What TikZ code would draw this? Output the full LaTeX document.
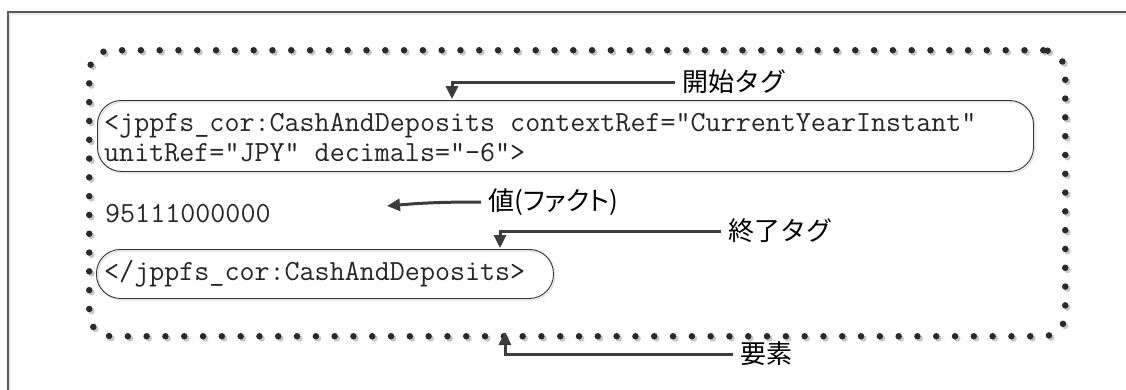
\documentclass[tikz,border=0pt]{standalone}
\usepackage{fontspec}
\newfontfamily\jp{Noto Sans CJK JP}
\newfontfamily\jpp[RawFeature=+palt]{Noto Sans CJK JP}
\usetikzlibrary{arrows.meta}
\definecolor{arrc}{HTML}{3C3C3C}
\definecolor{dotc}{HTML}{2A2A2A}
\begin{document}
\begin{tikzpicture}[x=1pt,y=-1pt,
  code/.style={font=\ttfamily\fontsize{29.2}{30}\selectfont, inner sep=0pt, anchor=base west, text=black!85},
  lab/.style={font=\jp\fontsize{26}{30}\selectfont, inner sep=0pt, inner xsep=7pt, anchor=west, text=black},
  arr/.style={draw=arrc, line width=3pt, -{Triangle[length=13pt,width=12pt]}},
  tagbox/.style={draw=black!80, line width=0.9pt, rounded corners=24pt, inner sep=0pt,
    preaction={draw=black!10, line width=1.5pt, transform canvas={shift={(1.5pt,-1.5pt)}}}},
  elbox/.style={draw=dotc, line width=6.5pt, line cap=round, dash pattern=on 0pt off 18.8pt,
    rounded corners=22pt, inner sep=0pt,
    preaction={draw=black!22, line width=6.5pt, line cap=round, dash pattern=on 0pt off 18.8pt,
      transform canvas={shift={(2.2pt,-2.2pt)}}}}
]
\useasboundingbox (0,0) rectangle (1126,389);
\fill[white] (0,0) rectangle (1126,389);
% outer frame (partly visible)
\draw[black!65, line width=1.5pt] (8,395) -- (8,12) -- (1132,12);
\draw[black!8, line width=1.5pt] (10,395) -- (10,14) -- (1132,14);
% element box (dotted)
\node[elbox, minimum width=976pt, minimum height=286pt, anchor=north west] (elem) at (86,47) {};
% tag boxes
\node[tagbox, minimum width=936pt, minimum height=71pt, anchor=north west] (open) at (97,100) {};
\node[tagbox, minimum width=457pt, minimum height=49pt, anchor=north west] (close) at (96,249) {};
% code texts
\node[code] (l1) at (104,131) {<jppfs\_cor:CashAndDeposits contextRef="CurrentYearInstant"};
\node[code] (l2) at (104,161) {unitRef="JPY" decimals="-6">};
\node[code] (val) at (105,222) {95111000000};
\node[code] (ctext) at (104,280) {</jppfs\_cor:CashAndDeposits>};
% labels
\node[lab] (lopen) at (675,82) {開始タグ};
\node[lab, font=\jpp\fontsize{26}{30}\selectfont] (lval) at (481,202) {値(ファクト)};
\node[lab] (lclose) at (721,231) {終了タグ};
\node[lab] (lelem) at (733,354) {要素};
% arrow targets
\coordinate (topen) at (452,99);
\coordinate (tclose) at (500,248);
\coordinate (telem) at (505,332);
\coordinate (vtip) at (387,206);
% arrows
\draw[arr] (lopen.west) -| (topen);
\draw[arr] (lclose.west) -| (tclose);
\draw[arr] (lelem.west) -| (telem);
\draw[arr] (lval.west) to[out=180,in=5] (vtip);
\end{tikzpicture}
\end{document}
